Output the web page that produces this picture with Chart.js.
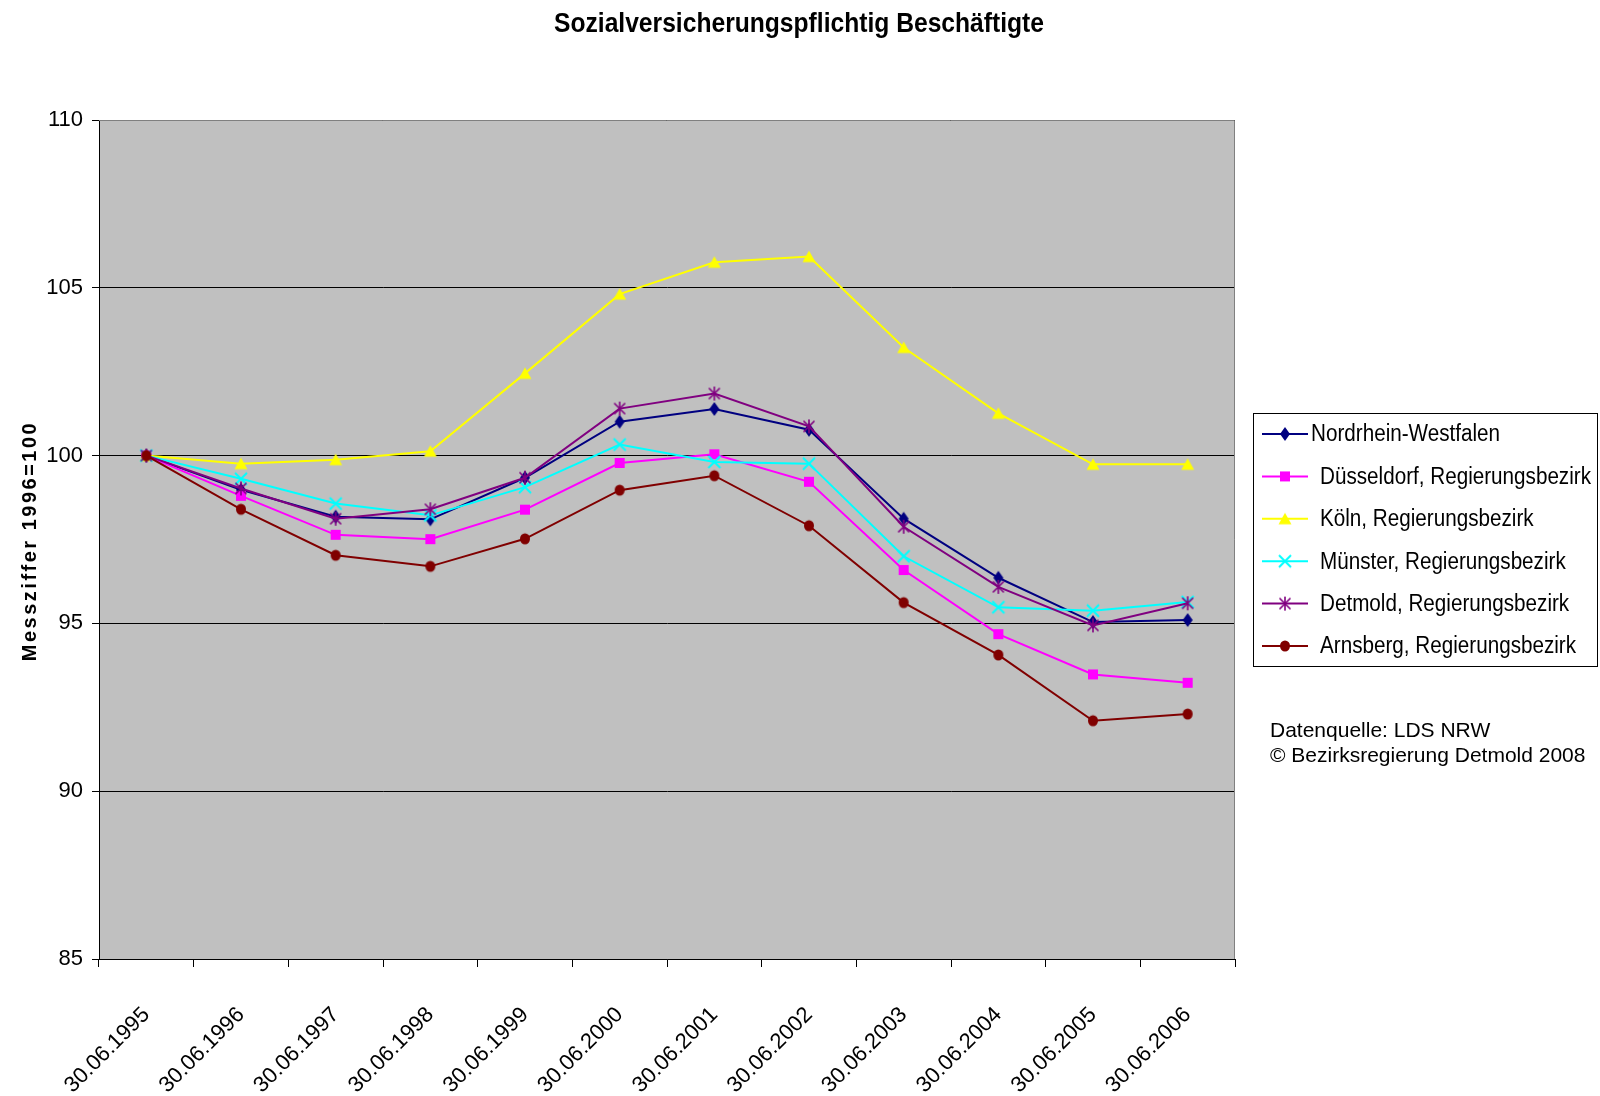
<!DOCTYPE html>
<html lang="de">
<head>
<meta charset="utf-8">
<title>Sozialversicherungspflichtig Beschäftigte</title>
<script src="https://cdn.jsdelivr.net/npm/chart.js@4.4.1/dist/chart.umd.min.js"></script>
<style>
  html, body { margin: 0; padding: 0; background: #ffffff; }
  #wrap { width: 1600px; height: 1096px; position: relative; }
</style>
</head>
<body>
<div id="wrap"><canvas id="chart" width="1600" height="1096"></canvas></div>
<script>
// Stichtage (x-Achse)
const categories = ['30.06.1995', '30.06.1996', '30.06.1997', '30.06.1998', '30.06.1999', '30.06.2000',
                    '30.06.2001', '30.06.2002', '30.06.2003', '30.06.2004', '30.06.2005', '30.06.2006'];

// Messziffern (1996 = 100) je Gebiet
const nrw         = [100, 98.98, 98.18, 98.10, 99.34, 101.01, 101.39, 100.77, 98.12, 96.36, 95.04, 95.10];
const duesseldorf = [100, 98.80, 97.64, 97.51, 98.39,  99.78, 100.04,  99.22, 96.59, 94.68, 93.48, 93.23];
const koeln       = [100, 99.76, 99.88, 100.13, 102.45, 104.81, 105.76, 105.93, 103.22, 101.26, 99.74, 99.74];
const muenster    = [100, 99.31, 98.57, 98.22, 99.06, 100.33,  99.81,  99.76, 97.00, 95.48, 95.38, 95.64];
const detmold     = [100, 99.02, 98.12, 98.40, 99.34, 101.40, 101.85, 100.87, 97.88, 96.09, 94.94, 95.60];
const arnsberg    = [100, 98.40, 97.03, 96.70, 97.52,  98.97,  99.40,  97.91, 95.62, 94.06, 92.10, 92.30];

const seriesNames = ['Nordrhein-Westfalen', 'Düsseldorf, Regierungsbezirk', 'Köln, Regierungsbezirk',
                     'Münster, Regierungsbezirk', 'Detmold, Regierungsbezirk', 'Arnsberg, Regierungsbezirk'];

// y-Achse
const yMin = 85, yMax = 110, yStep = 5;

const titleText = 'Sozialversicherungspflichtig Beschäftigte';
const yTitleText = 'Messziffer 1996=100';
const sourceLines = ['Datenquelle: LDS NRW', '© Bezirksregierung Detmold 2008'];

const SANS = "'Liberation Sans', Arial, sans-serif";

// Markersymbole als kleine Canvas-Bilder
function makeMarker(kind, color) {
  const c = document.createElement('canvas');
  c.width = 16; c.height = 16;
  const g = c.getContext('2d');
  g.fillStyle = color; g.strokeStyle = color;
  switch (kind) {
    case 'diamond':
      g.beginPath(); g.moveTo(8, 1); g.lineTo(13, 8); g.lineTo(8, 15); g.lineTo(3, 8); g.closePath(); g.fill();
      break;
    case 'square':
      g.fillRect(3, 3, 10, 10);
      break;
    case 'triangle':
      g.beginPath(); g.moveTo(8, 2); g.lineTo(14.5, 13.5); g.lineTo(1.5, 13.5); g.closePath(); g.fill();
      break;
    case 'x':
      g.lineWidth = 2;
      g.beginPath(); g.moveTo(2, 2); g.lineTo(14, 14); g.moveTo(14, 2); g.lineTo(2, 14); g.stroke();
      break;
    case 'star':
      g.lineWidth = 1.6;
      g.beginPath();
      g.moveTo(2.5, 2.5); g.lineTo(13.5, 13.5);
      g.moveTo(13.5, 2.5); g.lineTo(2.5, 13.5);
      g.moveTo(8, 1); g.lineTo(8, 15);
      g.stroke();
      break;
    case 'circle':
      g.beginPath(); g.ellipse(8, 8, 5, 5.6, 0, 0, Math.PI * 2); g.fill();
      break;
  }
  return c;
}

const colors = ['#000080', '#FF00FF', '#FFFF00', '#00FFFF', '#800080', '#800000'];
const markerKinds = ['diamond', 'square', 'triangle', 'x', 'star', 'circle'];
const values = [nrw, duesseldorf, koeln, muenster, detmold, arnsberg];
const markers = markerKinds.map((k, i) => makeMarker(k, colors[i]));

const datasets = values.map((v, i) => ({
  label: seriesNames[i],
  data: v,
  borderColor: colors[i],
  backgroundColor: colors[i],
  borderWidth: 2,
  pointStyle: markers[i],
  pointRadius: 6,
  tension: 0,
  fill: false,
  order: values.length - i
}));

// Text horizontal gestaucht auf eine Zielbreite zeichnen (schmale Schrift)
function condensedText(ctx, text, x, y, scaleX) {
  ctx.save();
  ctx.translate(x, y);
  ctx.scale(scaleX, 1);
  ctx.fillText(text, 0, 0);
  ctx.restore();
}

// Hintergrund, Rahmen, Titel, Legende und Quellenangabe
const decorations = {
  id: 'decorations',
  beforeDraw(chart) {
    const { ctx, chartArea: a } = chart;
    ctx.save();
    ctx.fillStyle = '#C0C0C0';
    ctx.fillRect(a.left, a.top, a.right - a.left, a.bottom - a.top);
    ctx.restore();
  },
  beforeDatasetsDraw(chart) {
    const { ctx, chartArea: a } = chart;
    ctx.save();
    ctx.strokeStyle = '#808080';
    ctx.lineWidth = 1;
    ctx.beginPath();
    ctx.moveTo(a.left, a.top + 0.5); ctx.lineTo(a.right - 0.5, a.top + 0.5); ctx.lineTo(a.right - 0.5, a.bottom);
    ctx.stroke();
    ctx.restore();
  },
  afterDraw(chart) {
    const { ctx } = chart;
    ctx.save();
    ctx.fillStyle = '#000';

    // Titel
    ctx.font = "bold 28px " + SANS;
    ctx.textAlign = 'center';
    ctx.textBaseline = 'middle';
    const tsx = 490 / ctx.measureText(titleText).width;
    condensedText(ctx, titleText, 799, 24, tsx);

    // Achsentitel
    ctx.save();
    ctx.translate(30, 541);
    ctx.rotate(-Math.PI / 2);
    ctx.font = "bold 20px " + SANS;
    ctx.letterSpacing = '2.5px';
    ctx.textAlign = 'center';
    ctx.textBaseline = 'middle';
    ctx.fillText(yTitleText, 0, 0);
    ctx.restore();

    // Legende
    const box = { x: 1253.5, y: 413.5, w: 344, h: 253 };
    ctx.strokeStyle = '#000';
    ctx.lineWidth = 1;
    ctx.strokeRect(box.x, box.y, box.w, box.h);
    ctx.font = "23px " + SANS;
    ctx.textAlign = 'left';
    ctx.textBaseline = 'middle';
    const lsx = 271 / ctx.measureText(seriesNames[1]).width;
    chart.data.datasets.forEach((ds, i) => {
      const y = 434 + i * 42.4;
      ctx.strokeStyle = ds.borderColor;
      ctx.lineWidth = 2;
      ctx.beginPath(); ctx.moveTo(1262, y); ctx.lineTo(1308, y); ctx.stroke();
      ctx.drawImage(ds.pointStyle, 1285 - 8, y - 8);
      ctx.fillStyle = '#000';
      condensedText(ctx, ds.label, i === 0 ? 1311 : 1320, y + 1, lsx);
    });

    // Quellenangabe
    ctx.font = "21px " + SANS;
    ctx.fillStyle = '#000';
    ctx.fillText(sourceLines[0], 1270, 731);
    ctx.fillText(sourceLines[1], 1270, 756);
    ctx.restore();
  }
};

new Chart(document.getElementById('chart'), {
  type: 'line',
  data: { labels: categories, datasets },
  options: {
    responsive: false,
    animation: false,
    events: [],
    layout: { padding: { left: 0, top: 120, right: 365, bottom: 0 } },
    plugins: {
      legend: { display: false },
      title: { display: false },
      tooltip: { enabled: false }
    },
    scales: {
      x: {
        type: 'category',
        offset: true,
        afterFit(scale) { scale.height = 137; },
        grid: { offset: true, drawOnChartArea: false, drawTicks: true, tickLength: 8, color: '#000', lineWidth: 1 },
        border: { color: '#000', width: 1 },
        ticks: {
          autoSkip: false,
          maxRotation: 45, minRotation: 45,
          padding: 35,
          color: '#000',
          font: { family: SANS, size: 22 }
        }
      },
      y: {
        min: yMin, max: yMax,
        afterFit(scale) { scale.width = 99; },
        grid: { color: '#000', lineWidth: 1, drawTicks: true, tickLength: 7 },
        border: { color: '#000', width: 1 },
        ticks: {
          stepSize: yStep,
          padding: 9,
          color: '#000',
          font: { family: SANS, size: 22 }
        }
      }
    }
  },
  plugins: [decorations]
});
</script>
</body>
</html>
